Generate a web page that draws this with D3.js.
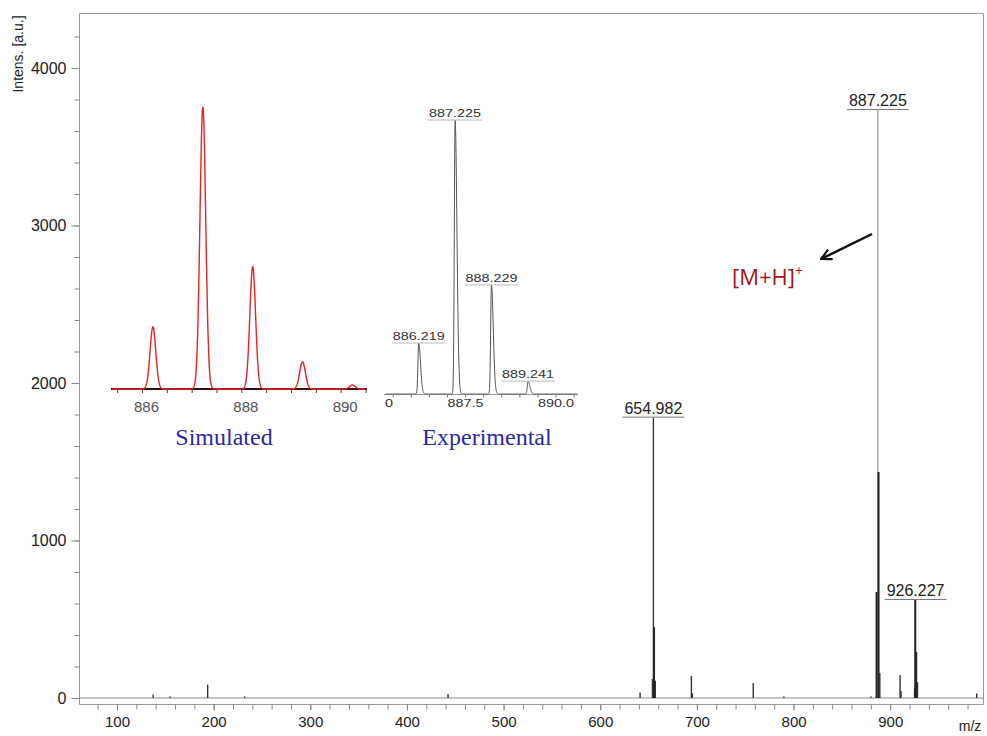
<!DOCTYPE html>
<html>
<head>
<meta charset="utf-8">
<script src="https://cdn.jsdelivr.net/npm/d3@7"></script>
<style>
  body { margin: 0; background: #fff; }
  svg text { font-family: "Liberation Sans", Arial, sans-serif; }
</style>
</head>
<body>
<svg id="chart" width="987" height="736"></svg>
<script>
// main spectrum: stick peaks (m/z, intensity)
var mainMz  = [137.4, 155.0, 193.8, 232.0, 442.5, 641.2, 653.98, 654.982, 655.98, 656.98,
               694.3, 695.3, 758.3, 790.0, 880.0, 886.219, 887.225, 888.229, 889.241,
               910.2, 911.2, 925.2, 926.227, 927.23, 928.23, 989.5];
var mainInt = [22, 10, 85, 10, 25, 35, 120, 1780, 450, 110,
               140, 30, 95, 10, 10, 673, 3733, 1435, 159,
               146, 45, 60, 622, 292, 100, 28];
var labelMz   = [654.982, 887.225, 926.227];
var labelText = ["654.982", "887.225", "926.227"];
var xTicks = [100, 200, 300, 400, 500, 600, 700, 800, 900];
var yTicks = [0, 1000, 2000, 3000, 4000];

// inset: simulated isotope pattern (relative %)
var simMz  = [886.22, 887.225, 888.229, 889.232, 890.236];
var simRel = [22.0, 100, 43.3, 9.6, 1.4];
var simTicks = [886, 888, 890];

// inset: experimental isotope pattern (relative %)
var expMz  = [886.219, 887.225, 888.229, 889.241];
var expRel = [18.6, 100, 39.8, 4.7];
var expLabels = ["886.219", "887.225", "888.229", "889.241"];
var expTicks = [885.0, 887.5, 890.0];

var svg = d3.select("#chart");

var x = d3.scaleLinear().domain([60.7, 996]).range([79, 983]);
var y = d3.scaleLinear().domain([0, 4000]).range([698, 68]);

// frame
var frame = svg.append("g").attr("stroke", "#9a9a9a").attr("stroke-width", 1);
frame.append("line").attr("x1", 79.5).attr("x2", 983.5).attr("y1", 13.5).attr("y2", 13.5);
frame.append("line").attr("x1", 983.5).attr("x2", 983.5).attr("y1", 13.5).attr("y2", 704.5);
frame.append("line").attr("x1", 79.5).attr("x2", 79.5).attr("y1", 13.5).attr("y2", 704.5);
frame.append("line").attr("x1", 79.5).attr("x2", 983.5).attr("y1", 704.5).attr("y2", 704.5);

// y axis
var yMinor = d3.range(0, 4400, 200);
var gyMinor = svg.append("g").attr("transform", "translate(79.5,0)")
  .call(d3.axisLeft(y).tickValues(yMinor).tickSize(5).tickFormat(""));
var gy = svg.append("g").attr("transform", "translate(79.5,0)")
  .call(d3.axisLeft(y).tickValues(yTicks).tickSize(8).tickPadding(5).tickFormat(d3.format("d")));
[gy, gyMinor].forEach(function(g) {
  g.select(".domain").remove();
  g.selectAll("line").attr("stroke", "#8a8a8a");
});
gy.selectAll("text").attr("font-size", 16).attr("fill", "#222");

// x axis
var xMinor = d3.range(80, 1000, 20);
var gxMinor = svg.append("g").attr("transform", "translate(0,704.5)")
  .call(d3.axisBottom(x).tickValues(xMinor).tickSize(5).tickFormat(""));
var gx = svg.append("g").attr("transform", "translate(0,704.5)")
  .call(d3.axisBottom(x).tickValues(xTicks).tickSize(6).tickPadding(6).tickFormat(d3.format("d")));
[gx, gxMinor].forEach(function(g) {
  g.select(".domain").remove();
  g.selectAll("line").attr("stroke", "#8a8a8a");
});
gx.selectAll("text").attr("font-size", 15).attr("fill", "#222");

svg.append("text").attr("x", 970).attr("y", 731).attr("text-anchor", "middle")
  .attr("font-size", 14).attr("fill", "#222").text("m/z");

svg.append("text")
  .attr("transform", "translate(23,54) rotate(-90)")
  .attr("text-anchor", "middle").attr("font-size", 14).attr("fill", "#222")
  .text("Intens. [a.u.]");

// baseline of spectrum
svg.append("line").attr("x1", 79.5).attr("x2", 983).attr("y1", y(0)).attr("y2", y(0))
  .attr("stroke", "#8c8c8c").attr("stroke-width", 1);

// peaks
var peaks = mainMz.map(function(m, i) { return { mz: m, v: mainInt[i] }; });
svg.append("g").selectAll("line").data(peaks).enter().append("line")
  .attr("x1", function(d) { return x(d.mz); })
  .attr("x2", function(d) { return x(d.mz); })
  .attr("y1", y(0))
  .attr("y2", function(d) { return y(d.v); })
  .attr("stroke", function(d) { return d.v > 3000 ? "#808080" : (d.v > 1000 ? "#3a3a3a" : "#333"); })
  .attr("stroke-width", function(d) { return d.v > 3000 ? 1 : 1.4; });

// thicker dark lower parts of major peaks (overlapping isotopes)
svg.append("g").selectAll("line").data(peaks.filter(function(d) { return d.v > 250 && d.v < 1500; }))
  .enter().append("line")
  .attr("x1", function(d) { return x(d.mz) - 0.5; })
  .attr("x2", function(d) { return x(d.mz) - 0.5; })
  .attr("y1", y(0))
  .attr("y2", function(d) { return y(d.v); })
  .attr("stroke", "#222").attr("stroke-width", 1.6);

// peak labels
labelMz.forEach(function(m, i) {
  var pk = peaks.find(function(d) { return d.mz === m; });
  var cx = x(m), ty = y(pk.v);
  var t = svg.append("text").attr("x", cx).attr("y", ty - 4)
    .attr("text-anchor", "middle").attr("font-size", 16).attr("fill", "#222")
    .text(labelText[i]);
  var w = t.node().getComputedTextLength();
  svg.append("line").attr("x1", cx - w / 2 - 2).attr("x2", cx + w / 2 + 2)
    .attr("y1", ty - 0.5).attr("y2", ty - 0.5).attr("stroke", "#777");
});

// annotation arrow
var defs = svg.append("defs");
defs.append("marker").attr("id", "arr").attr("viewBox", "0 0 12 12")
  .attr("refX", 11).attr("refY", 6).attr("markerWidth", 5).attr("markerHeight", 5)
  .attr("orient", "auto")
  .append("path").attr("d", "M1,1 L11,6 L1,11").attr("fill", "none")
  .attr("stroke", "#111").attr("stroke-width", 2);
svg.append("line").attr("x1", 872).attr("y1", 234).attr("x2", 821).attr("y2", 259)
  .attr("stroke", "#111").attr("stroke-width", 2.5).attr("marker-end", "url(#arr)");

var mh = svg.append("text").attr("x", 732).attr("y", 285)
  .style("font-family", "'Open Sans', sans-serif").attr("font-size", 22).attr("fill", "#a31515");
mh.append("tspan").text("[M+H]");
mh.append("tspan").attr("font-size", 14).attr("dy", -9).text("+");

// ---------- simulated inset ----------
function profile(mzs, rel, lo, hi, sl, sr) {
  var pts = [];
  for (var m = lo; m <= hi + 1e-9; m += 0.005) {
    var s = 0;
    mzs.forEach(function(c, i) {
      var d = m - c, sg = d < 0 ? sl : sr;
      s += rel[i] * Math.exp(-d * d / (2 * sg * sg));
    });
    pts.push([m, s]);
  }
  return pts;
}

var sx = d3.scaleLinear().domain([885.376, 890.53]).range([111, 367]);
var sy = d3.scaleLinear().domain([0, 100]).range([389, 107]);

var gsx = svg.append("g").attr("transform", "translate(0,389)")
  .call(d3.axisBottom(sx).tickValues(d3.range(885.5, 890.6, 0.5)).tickSize(4).tickFormat(""));
gsx.select(".domain").remove();
gsx.selectAll("line").attr("stroke", "#444");
var gsl = svg.append("g").attr("transform", "translate(0,389)")
  .call(d3.axisBottom(sx).tickValues(simTicks).tickSize(0).tickPadding(12).tickFormat(d3.format("d")));
gsl.select(".domain").remove();
gsl.selectAll("text").attr("font-size", 15).attr("fill", "#555").attr("dx", 4);

svg.append("line").attr("x1", 111).attr("x2", 367).attr("y1", 389).attr("y2", 389)
  .attr("stroke", "#3a0c0c").attr("stroke-width", 2);

var simLine = d3.line().x(function(d) { return sx(d[0]); }).y(function(d) { return sy(d[1]); });
svg.append("path").datum(profile(simMz, simRel, 885.4, 890.5, 0.058, 0.058))
  .attr("d", simLine).attr("fill", "none").attr("stroke", "#e52424").attr("stroke-width", 1.4);

svg.append("text").attr("x", 224).attr("y", 445).attr("text-anchor", "middle")
  .style("font-family", "'Liberation Serif', 'Times New Roman', serif")
  .attr("font-size", 24).attr("fill", "#2a2aa8").text("Simulated");

// ---------- experimental inset ----------
var ex = d3.scaleLinear().domain([885.26, 890.62]).range([384, 578]);
var ey = d3.scaleLinear().domain([0, 100]).range([394, 120]);

defs.append("clipPath").attr("id", "expclip")
  .append("rect").attr("x", 385).attr("y", 395).attr("width", 200).attr("height", 20);

var gex = svg.append("g").attr("transform", "translate(0,394.5)")
  .call(d3.axisBottom(ex).tickValues(d3.range(885.5, 890.6, 0.5)).tickSize(3).tickFormat(""));
gex.select(".domain").remove();
gex.selectAll("line").attr("stroke", "#777");
var gexl = svg.append("g").attr("clip-path", "url(#expclip)")
  .append("g").attr("transform", "translate(0,394.5)")
  .call(d3.axisBottom(ex).tickValues(expTicks).tickSize(0).tickPadding(5).tickFormat(d3.format(".1f")));
gexl.select(".domain").remove();
gexl.selectAll("text").attr("font-size", 10.5).attr("fill", "#333")
  .attr("textLength", 36).attr("lengthAdjust", "spacingAndGlyphs");

svg.append("line").attr("x1", 384).attr("x2", 578).attr("y1", 394.5).attr("y2", 394.5)
  .attr("stroke", "#999").attr("stroke-width", 1);

var expLine = d3.line().x(function(d) { return ex(d[0]); }).y(function(d) { return ey(d[1]); });
svg.append("path").datum(profile(expMz, expRel, 885.3, 890.6, 0.022, 0.05))
  .attr("d", expLine).attr("fill", "none").attr("stroke", "#555").attr("stroke-width", 1);

expMz.forEach(function(m, i) {
  var cx = ex(m), ty = ey(expRel[i]);
  svg.append("text").attr("x", cx).attr("y", ty - 3).attr("text-anchor", "middle")
    .attr("font-size", 10.5).attr("fill", "#333")
    .attr("textLength", 52).attr("lengthAdjust", "spacingAndGlyphs").text(expLabels[i]);
  svg.append("line").attr("x1", cx - 27).attr("x2", cx + 27).attr("y1", ty).attr("y2", ty)
    .attr("stroke", "#bbb");
});

svg.append("text").attr("x", 487).attr("y", 445).attr("text-anchor", "middle")
  .style("font-family", "'Liberation Serif', 'Times New Roman', serif")
  .attr("font-size", 24).attr("fill", "#2a2aa8").text("Experimental");
</script>
</body>
</html>
